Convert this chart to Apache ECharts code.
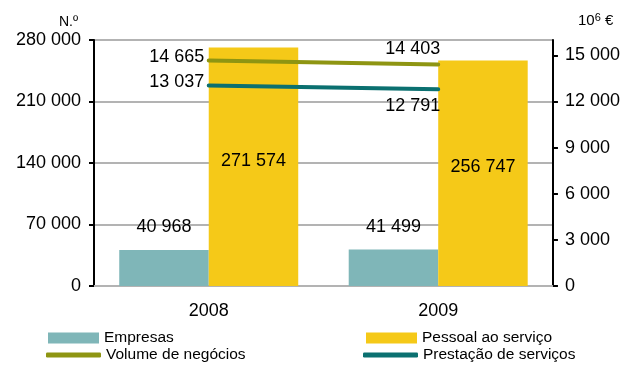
<!DOCTYPE html>
<html><head><meta charset="utf-8">
<script src="https://cdn.jsdelivr.net/npm/echarts@6/dist/echarts.min.js"></script>
<style>html,body{margin:0;padding:0;background:#fff}#c{width:623px;height:365px}</style>
</head><body><div id="c"></div>
<script>
const categories = ['2008', '2009'];
const empresas = [40968, 41499];
const pessoal = [271574, 256747];
const volume = [14665, 14403];
const prestacao = [13037, 12791];
const leftTicks = [0, 70000, 140000, 210000, 280000];
const rightTicks = [0, 3000, 6000, 9000, 12000, 15000];

const fmt = v => String(v).replace(/\B(?=(\d{3})+(?!\d))/g, ' ');
const font = '"Liberation Sans", Arial, sans-serif';
const chart = echarts.init(document.getElementById('c'));
const legendText = {fontFamily: font, fontSize: 15.5, color: '#000'};
const olive = '#8e9512', teal = '#0b7070';
const startLabel = {position: [-4, -3], align: 'right', verticalAlign: 'middle'};
chart.setOption({
  animation: false,
  textStyle: {fontFamily: font},
  grid: {left: 94, right: 70, top: 40, bottom: 79},
  legend: [
    {data: ['Empresas'], left: 48, top: 330, itemWidth: 51, itemHeight: 11, textStyle: legendText, icon: 'rect', padding: 0},
    {data: ['Pessoal ao serviço'], left: 366, top: 330, itemWidth: 51, itemHeight: 11, textStyle: legendText, icon: 'rect', padding: 0},
    {data: ['Volume de negócios'], left: 46, top: 347, itemWidth: 55, itemHeight: 5, textStyle: legendText, icon: 'roundRect', padding: 0},
    {data: ['Prestação de serviços'], left: 363, top: 347, itemWidth: 55, itemHeight: 5, textStyle: legendText, icon: 'roundRect', padding: 0}
  ],
  xAxis: {
    type: 'category', data: categories,
    axisLine: {lineStyle: {color: '#b3b3b3', width: 2}},
    axisTick: {show: false},
    axisLabel: {fontSize: 18, color: '#000', margin: 16}
  },
  yAxis: [
    {
      type: 'value', min: 0, max: 280000, interval: 70000,
      name: 'N.º', nameGap: 11, nameTextStyle: {fontSize: 14, color: '#000', align: 'right', padding: [0, 16, 0, 0]},
      axisLine: {show: true, lineStyle: {color: '#000', width: 2}},
      axisTick: {show: true, length: 5, customValues: leftTicks, lineStyle: {color: '#000', width: 2}},
      axisLabel: {fontSize: 18, color: '#000', margin: 13, customValues: leftTicks, formatter: fmt},
      splitLine: {lineStyle: {color: '#b3b3b3', width: 2}}
    },
    {
      type: 'value', min: 0, max: 16000,
      name: '{n|10}{s|6}{n| €}', nameGap: 11,
      nameTextStyle: {align: 'left', padding: [0, 0, 0, 25], rich: {
        n: {fontSize: 15, color: '#000', fontFamily: font},
        s: {fontSize: 11, color: '#000', fontFamily: font, verticalAlign: 'top', padding: [0, 0, 6, 0]}
      }},
      axisLine: {show: true, lineStyle: {color: '#000', width: 2}},
      axisTick: {show: true, length: 5, customValues: rightTicks, lineStyle: {color: '#000', width: 2}},
      axisLabel: {fontSize: 18, color: '#000', margin: 12, customValues: rightTicks, formatter: fmt},
      splitLine: {show: false}
    }
  ],
  series: [
    {
      name: 'Empresas', type: 'bar', data: empresas, barGap: '0%', barCategoryGap: '22%',
      itemStyle: {color: '#7fb6b8'},
      label: {show: true, position: 'top', distance: 14, fontSize: 18, color: '#000', formatter: p => fmt(p.value)}
    },
    {
      name: 'Pessoal ao serviço', type: 'bar', data: pessoal,
      itemStyle: {color: '#f5c918'},
      label: {show: true, position: 'inside', offset: [0, -6], fontSize: 18, color: '#000', formatter: p => fmt(p.value)}
    },
    {
      name: 'Volume de negócios', type: 'line', yAxisIndex: 1,
      data: volume.map((v, i) => ({value: v, label: i === 0 ? startLabel : {position: [-25, -15], align: 'center', verticalAlign: 'middle'}})),
      symbol: 'circle', symbolSize: 1, showSymbol: true,
      lineStyle: {color: olive, width: 4, cap: 'round'}, itemStyle: {color: olive},
      label: {show: true, fontSize: 18, color: '#000', formatter: p => fmt(p.value)},
      labelLayout: {hideOverlap: false}
    },
    {
      name: 'Prestação de serviços', type: 'line', yAxisIndex: 1,
      data: prestacao.map((v, i) => ({value: v, label: i === 0 ? startLabel : {position: [-25, 17], align: 'center', verticalAlign: 'middle'}})),
      symbol: 'circle', symbolSize: 1, showSymbol: true,
      lineStyle: {color: teal, width: 4, cap: 'round'}, itemStyle: {color: teal},
      label: {show: true, fontSize: 18, color: '#000', formatter: p => fmt(p.value)},
      labelLayout: {hideOverlap: false}
    }
  ]
});
</script></body></html>
